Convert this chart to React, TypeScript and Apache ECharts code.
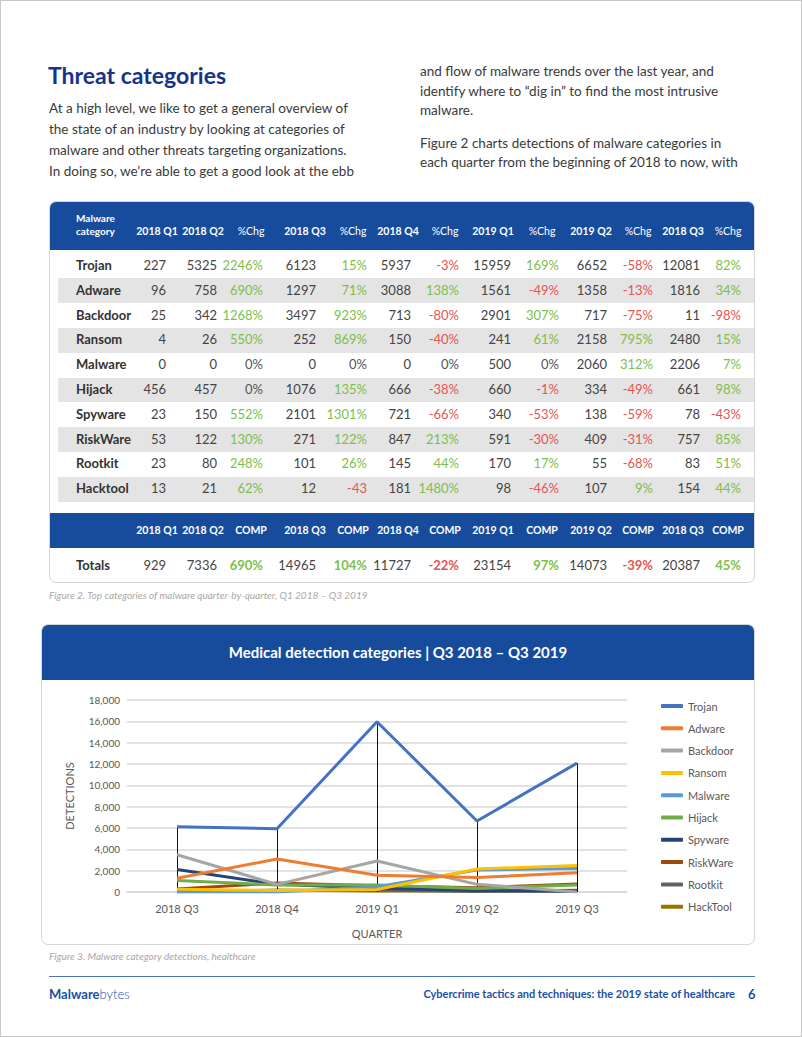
import React, { useEffect, useRef } from "react";
import * as echarts from "echarts";

// ---------- table data ----------
const tableQuarters = ["2018 Q1", "2018 Q2", "2018 Q3", "2018 Q4", "2019 Q1", "2019 Q2", "2018 Q3"];
const rowNames = ["Trojan", "Adware", "Backdoor", "Ransom", "Malware", "Hijack", "Spyware", "RiskWare", "Rootkit", "Hacktool"];
const trojanCounts = [227, 5325, 6123, 5937, 15959, 6652, 12081];
const adwareCounts = [96, 758, 1297, 3088, 1561, 1358, 1816];
const backdoorCounts = [25, 342, 3497, 713, 2901, 717, 11];
const ransomCounts = [4, 26, 252, 150, 241, 2158, 2480];
const malwareCounts = [0, 0, 0, 0, 500, 2060, 2206];
const hijackCounts = [456, 457, 1076, 666, 660, 334, 661];
const spywareCounts = [23, 150, 2101, 721, 340, 138, 78];
const riskwareCounts = [53, 122, 271, 847, 591, 409, 757];
const rootkitCounts = [23, 80, 101, 145, 170, 55, 83];
const hacktoolCounts = [13, 21, 12, 181, 98, 107, 154];
const totalCounts = [929, 7336, 14965, 11727, 23154, 14073, 20387];

const trojanPct = ["2246%", "15%", "-3%", "169%", "-58%", "82%"];
const adwarePct = ["690%", "71%", "138%", "-49%", "-13%", "34%"];
const backdoorPct = ["1268%", "923%", "-80%", "307%", "-75%", "-98%"];
const ransomPct = ["550%", "869%", "-40%", "61%", "795%", "15%"];
const malwarePct = ["0%", "0%", "0%", "0%", "312%", "7%"];
const hijackPct = ["0%", "135%", "-38%", "-1%", "-49%", "98%"];
const spywarePct = ["552%", "1301%", "-66%", "-53%", "-59%", "-43%"];
const riskwarePct = ["130%", "122%", "213%", "-30%", "-31%", "85%"];
const rootkitPct = ["248%", "26%", "44%", "17%", "-68%", "51%"];
const hacktoolPct = ["62%", "-43", "1480%", "-46%", "9%", "44%"];
const totalPct = ["690%", "104%", "-22%", "97%", "-39%", "45%"];

const rowCounts = [trojanCounts, adwareCounts, backdoorCounts, ransomCounts, malwareCounts, hijackCounts, spywareCounts, riskwareCounts, rootkitCounts, hacktoolCounts];
const rowPcts = [trojanPct, adwarePct, backdoorPct, ransomPct, malwarePct, hijackPct, spywarePct, riskwarePct, rootkitPct, hacktoolPct];

// ---------- chart data ----------
const chartQuarters = ["2018 Q3", "2018 Q4", "2019 Q1", "2019 Q2", "2019 Q3"];
const seriesNames = ["Trojan", "Adware", "Backdoor", "Ransom", "Malware", "Hijack", "Spyware", "RiskWare", "Rootkit", "HackTool"];
const trojanLine = [6123, 5937, 15959, 6652, 12081];
const adwareLine = [1297, 3088, 1561, 1358, 1816];
const backdoorLine = [3497, 713, 2901, 717, 11];
const ransomLine = [252, 150, 241, 2158, 2480];
const malwareLine = [0, 0, 500, 2060, 2206];
const hijackLine = [1076, 666, 660, 334, 661];
const spywareLine = [2101, 721, 340, 138, 78];
const riskwareLine = [271, 847, 591, 409, 757];
const rootkitLine = [101, 145, 170, 55, 83];
const hacktoolLine = [12, 181, 98, 107, 154];
const lineValues = [trojanLine, adwareLine, backdoorLine, ransomLine, malwareLine, hijackLine, spywareLine, riskwareLine, rootkitLine, hacktoolLine];
const lineColors = ["#4472c4", "#ed7d31", "#a5a5a5", "#ffc000", "#5b9bd5", "#70ad47", "#264478", "#9e480e", "#636363", "#997300"];

const BLUE = "#174c9c";
const NAVY = "#16338a";
const FONT = "Lato, 'Open Sans', sans-serif";

// column right edges / header centers (layout)
const colRight = [165, 216, 262, 315, 366, 410, 458, 510, 558, 606, 652, 699, 740];
const colCenter = [156, 202, 250, 304, 352, 397, 444, 492, 541, 590, 637, 682, 727];

function pctColor(s: string) {
  if (s.startsWith("-")) return "#e55454";
  if (s === "0%") return "#555";
  return "#7cbf4a";
}

function rowCells(counts: number[], pct: string[]) {
  const cells: { text: string; color: string }[] = [];
  cells.push({ text: String(counts[0]), color: "#444" });
  for (let i = 1; i < counts.length; i++) {
    cells.push({ text: String(counts[i]), color: "#444" });
    cells.push({ text: pct[i - 1], color: pctColor(pct[i - 1]) });
  }
  return cells;
}

const abs = (x: number, y: number, extra: React.CSSProperties = {}): React.CSSProperties => ({
  position: "absolute",
  left: x,
  top: y,
  whiteSpace: "nowrap",
  ...extra,
});

function Line({ x, cy, size, text, lh = 20, style = {} }: { x: number; cy: number; size: number; text: string; lh?: number; style?: React.CSSProperties }) {
  return (
    <div style={abs(x, cy - lh / 2, { fontSize: size, lineHeight: lh + "px", height: lh, color: "#3a3a3a", ...style })}>{text}</div>
  );
}

function Chart() {
  const ref = useRef<HTMLDivElement>(null);
  useEffect(() => {
    if (!ref.current) return;
    const chart = echarts.init(ref.current, undefined, { renderer: "svg" });
    const dropLines = chartQuarters.map((q, i) => [
      { coord: [q, trojanLine[i]] },
      { coord: [q, 0] },
    ]);
    chart.setOption({
      animation: false,
      textStyle: { fontFamily: FONT },
      grid: { left: 85, right: 127, top: 21, bottom: 51 },
      legend: {
        orient: "vertical",
        left: 614,
        top: 15,
        icon: "roundRect",
        itemWidth: 22,
        itemHeight: 4,
        itemGap: 8.3,
        textStyle: { fontSize: 11, color: "#595959", lineHeight: 14 },
        data: seriesNames,
      },
      xAxis: {
        type: "category",
        data: chartQuarters,
        boundaryGap: true,
        axisLine: { show: true, lineStyle: { color: "#d9d9d9", width: 1.5 } },
        axisTick: { show: false },
        axisLabel: { fontSize: 11, color: "#595959", margin: 11 },
        name: "QUARTER",
        nameLocation: "middle",
        nameGap: 36,
        nameTextStyle: { fontSize: 11, color: "#595959" },
      },
      yAxis: {
        type: "value",
        min: 0,
        max: 18000,
        interval: 2000,
        axisLine: { show: false },
        axisTick: { show: false },
        axisLabel: {
          fontSize: 10,
          color: "#595959",
          margin: 7,
          formatter: (v: number) => v.toLocaleString("en-US"),
        },
        splitLine: { lineStyle: { color: "#d9d9d9", width: 1.5 } },
        name: "DETECTIONS",
        nameLocation: "middle",
        nameRotate: 90,
        nameGap: 52,
        nameTextStyle: { fontSize: 11, color: "#595959" },
      },
      series: seriesNames.map((name, i) => ({
        name,
        type: "line",
        data: lineValues[i],
        symbol: "none",
        lineStyle: { width: 3, color: lineColors[i] },
        itemStyle: { color: lineColors[i] },
        z: 2 + (seriesNames.length - i),
        ...(i === 0
          ? {
              markLine: {
                silent: true,
                symbol: ["none", "none"],
                label: { show: false },
                lineStyle: { color: "#111", width: 1, type: "solid" },
                data: dropLines,
              },
            }
          : {}),
      })),
    });
    return () => chart.dispose();
  }, []);
  return <div ref={ref} style={{ position: "absolute", left: 41, top: 678, width: 712, height: 265 }} />;
}

export default function App() {
  const rowY0 = 264;
  const rowStep = 24.8;
  return (
    <div
      style={{
        position: "absolute",
        left: 0,
        top: 0,
        width: 802,
        height: 1037,
        boxSizing: "border-box",
        border: "1px solid #c8c8c8",
        background: "#fff",
        fontFamily: FONT,
        overflow: "hidden",
      }}
    >
      {/* Title and intro text */}
      <Line x={47} cy={74} size={23} lh={30} text="Threat categories" style={{ color: NAVY, fontWeight: 700 }} />
      <Line x={48} cy={107} size={13.5} text="At a high level, we like to get a general overview of" />
      <Line x={48} cy={128} size={13.5} text="the state of an industry by looking at categories of" />
      <Line x={48} cy={149} size={13.5} text="malware and other threats targeting organizations." />
      <Line x={48} cy={170} size={13.5} text="In doing so, we’re able to get a good look at the ebb" />
      <Line x={419} cy={70} size={13.5} text="and flow of malware trends over the last year, and" />
      <Line x={419} cy={90} size={13.5} text="identify where to “dig in” to find the most intrusive" />
      <Line x={419} cy={109} size={13.5} text="malware." />
      <Line x={419} cy={142} size={13.5} text="Figure 2 charts detections of malware categories in" />
      <Line x={419} cy={161} size={13.5} text="each quarter from the beginning of 2018 to now, with" />

      {/* Table card */}
      <div
        style={{
          position: "absolute",
          left: 48,
          top: 200,
          width: 706,
          height: 382,
          boxSizing: "border-box",
          border: "1px solid #d6d6d6",
          borderRadius: 7,
          overflow: "hidden",
        }}
      >
        <div style={{ position: "absolute", left: 0, top: 0, width: 706, height: 48, background: BLUE }} />
        {rowNames.map((_, r) =>
          r % 2 === 1 ? (
            <div
              key={"bg" + r}
              style={{ position: "absolute", left: 8, top: rowY0 - 200 + r * rowStep - 12.4, width: 698, height: rowStep, background: "#e4e4e4" }}
            />
          ) : null
        )}
        <div style={{ position: "absolute", left: 0, top: 311, width: 706, height: 35, background: BLUE }} />
      </div>

      {/* Table header */}
      <div style={abs(75, 211, { color: "#fff", fontSize: 10, fontWeight: 700, lineHeight: "13px" })}>
        Malware
        <br />
        category
      </div>
      {colCenter.map((cx, c) => {
        const label = c === 0 ? tableQuarters[0] : c % 2 === 1 ? tableQuarters[(c + 1) / 2] : "%Chg";
        return (
          <div
            key={"h" + c}
            style={abs(cx - 30, 223, { width: 60, textAlign: "center", color: "#fff", fontSize: 10.5, fontWeight: label === "%Chg" ? 400 : 700, lineHeight: "14px" })}
          >
            {label}
          </div>
        );
      })}

      {/* Table rows */}
      {rowNames.map((name, r) => {
        const cy = rowY0 + r * rowStep;
        const cells = rowCells(rowCounts[r], rowPcts[r]);
        return (
          <React.Fragment key={"r" + r}>
            <div style={abs(75, cy - 9, { fontSize: 13, fontWeight: 700, color: "#333", lineHeight: "18px" })}>{name}</div>
            {cells.map((cell, c) => (
              <div
                key={c}
                style={abs(colRight[c] - 60, cy - 9, { width: 60, textAlign: "right", fontSize: 13, color: cell.color, lineHeight: "18px" })}
              >
                {cell.text}
              </div>
            ))}
          </React.Fragment>
        );
      })}

      {/* Totals header */}
      {colCenter.map((cx, c) => {
        const label = c === 0 ? tableQuarters[0] : c % 2 === 1 ? tableQuarters[(c + 1) / 2] : "COMP";
        return (
          <div
            key={"th" + c}
            style={abs(cx - 30, 522, { width: 60, textAlign: "center", color: "#fff", fontSize: 10.5, fontWeight: 700, lineHeight: "14px" })}
          >
            {label}
          </div>
        );
      })}
      <div style={abs(75, 555, { fontSize: 13, fontWeight: 700, color: "#333", lineHeight: "18px" })}>Totals</div>
      {rowCells(totalCounts, totalPct).map((cell, c) => (
        <div
          key={"t" + c}
          style={abs(colRight[c] - 60, 555, {
            width: 60,
            textAlign: "right",
            fontSize: 13,
            color: cell.color,
            fontWeight: c % 2 === 0 && c > 0 ? 700 : 400,
            lineHeight: "18px",
          })}
        >
          {cell.text}
        </div>
      ))}

      <div style={abs(48, 587, { fontSize: 10, fontStyle: "italic", color: "#a8a8a8", lineHeight: "14px" })}>
        Figure 2. Top categories of malware quarter-by-quarter, Q1 2018 – Q3 2019
      </div>

      {/* Chart card */}
      <div
        style={{
          position: "absolute",
          left: 40,
          top: 623,
          width: 714,
          height: 321,
          boxSizing: "border-box",
          border: "1px solid #d6d6d6",
          borderRadius: 7,
          overflow: "hidden",
        }}
      >
        <div style={{ position: "absolute", left: 0, top: 0, width: 714, height: 55, background: BLUE }} />
      </div>
      <div style={abs(40, 641, { width: 714, textAlign: "center", color: "#fff", fontSize: 15, fontWeight: 700, lineHeight: "20px" })}>
        Medical detection categories | Q3 2018 – Q3 2019
      </div>
      <Chart />

      <div style={abs(48, 948, { fontSize: 10, fontStyle: "italic", color: "#a8a8a8", lineHeight: "14px" })}>
        Figure 3. Malware category detections, healthcare
      </div>

      {/* Footer */}
      <div style={{ position: "absolute", left: 48, top: 975, width: 706, height: 1, background: "#4a74b4" }} />
      <div style={abs(48, 985, { fontSize: 13, lineHeight: "16px", color: "#1b50a8" })}>
        <span style={{ fontWeight: 700 }}>Malware</span>
        <span style={{ fontWeight: 300 }}>bytes</span>
      </div>
      <div style={abs(300, 986, { width: 434, textAlign: "right", fontSize: 11, fontWeight: 700, color: "#1b50a8", lineHeight: "14px" })}>
        Cybercrime tactics and techniques: the 2019 state of healthcare
      </div>
      <div style={abs(747, 985, { fontSize: 13, fontWeight: 700, color: "#1b50a8", lineHeight: "16px" })}>6</div>
    </div>
  );
}
